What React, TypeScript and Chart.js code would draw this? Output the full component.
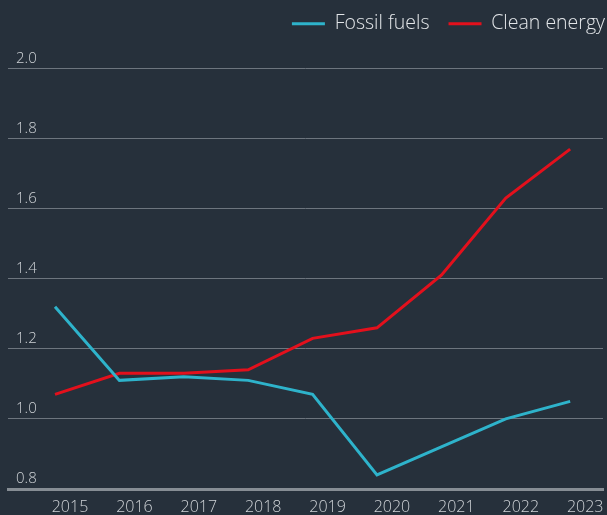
import React, { useEffect, useRef } from "react";
import { Chart, registerables } from "chart.js";

Chart.register(...registerables);

const years = [2015, 2016, 2017, 2018, 2019, 2020, 2021, 2022, 2023];
const fossilFuels = [1.32, 1.11, 1.12, 1.11, 1.07, 0.84, 0.92, 1.0, 1.05];
const cleanEnergy = [1.07, 1.13, 1.13, 1.14, 1.23, 1.26, 1.41, 1.63, 1.77];
const yTicks = [0.8, 1.0, 1.2, 1.4, 1.6, 1.8, 2.0];
const seriesNames = ["Fossil fuels", "Clean energy"];

const BG = "#26303b";
const FONT = "'Open Sans', 'Noto Sans', sans-serif";

const legendTweak = {
  id: "legendTweak",
  beforeUpdate(chart: any) {
    const lg: any = chart.legend;
    if (lg && !lg.__tweaked) {
      const orig = lg.fit;
      lg.fit = function () {
        orig.call(this);
        this.height += 25;
      };
      lg.__tweaked = true;
    }
  },
  afterLayout(chart: any) {
    const lg: any = chart.legend;
    if (lg) {
      lg.right += 21;
      lg.width += 21;
    }
  },
};

export default function App() {
  const ref = useRef<HTMLCanvasElement | null>(null);

  useEffect(() => {
    document.body.style.margin = "0";
    document.body.style.background = BG;
    const canvas = ref.current;
    if (!canvas) return;
    const chart = new Chart(canvas, {
      type: "line",
      data: {
        datasets: [
          {
            label: seriesNames[0],
            data: years.map((x, i) => ({ x, y: fossilFuels[i] })),
            borderColor: "#2eb3cb",
            backgroundColor: "#2eb3cb",
            borderWidth: 3,
            pointRadius: 0,
            tension: 0,
          },
          {
            label: seriesNames[1],
            data: years.map((x, i) => ({ x, y: cleanEnergy[i] })),
            borderColor: "#e3101c",
            backgroundColor: "#e3101c",
            borderWidth: 3,
            pointRadius: 0,
            tension: 0,
          },
        ],
      },
      plugins: [legendTweak],
      options: {
        animation: false,
        responsive: true,
        maintainAspectRatio: false,
        layout: { padding: { left: 0, right: 4, top: -5, bottom: 0 } },
        plugins: {
          tooltip: { enabled: false },
          legend: {
            position: "top",
            align: "end",
            labels: {
              boxWidth: 33,
              boxHeight: 3,
              padding: 19,
              color: "#e2e5e8",
              font: { family: FONT, size: 19.5, weight: "300" },
              generateLabels: (c: any) =>
                Chart.defaults.plugins.legend.labels
                  .generateLabels(c)
                  .map((l: any) => ({ ...l, lineWidth: 0, strokeStyle: "rgba(0,0,0,0)" })),
            },
          },
        },
        scales: {
          x: {
            type: "linear",
            min: 2014.27,
            max: 2023.51,
            afterBuildTicks: (s: any) => {
              s.ticks = years.map((v) => ({ value: v }));
            },
            afterFit: (s: any) => {
              s.height = 26;
            },
            grid: { display: false, drawTicks: false },
            border: { display: true, color: "#868d94", width: 3 },
            ticks: {
              color: "#cfd3d7",
              font: { family: FONT, size: 16, weight: "300" },
              padding: 9,
              labelOffset: 15,
              maxRotation: 0,
              autoSkip: false,
              callback: (v: any) => String(v),
            },
          },
          y: {
            min: 0.8,
            max: 2.0,
            afterBuildTicks: (s: any) => {
              s.ticks = yTicks.map((v) => ({ value: v }));
            },
            afterFit: (s: any) => {
              s.width = 8;
            },
            grid: { color: "#6d757e", lineWidth: 1, drawTicks: false },
            border: { display: false },
            ticks: {
              mirror: true,
              padding: 8,
              labelOffset: -10,
              color: "#cfd3d7",
              font: { family: FONT, size: 15, weight: "300" },
              callback: (v: any) => Number(v).toFixed(1),
            },
          },
        },
      },
    });
    return () => chart.destroy();
  }, []);

  return (
    <div style={{ width: 607, height: 515, background: BG, position: "relative" }}>
      <canvas ref={ref} />
    </div>
  );
}
